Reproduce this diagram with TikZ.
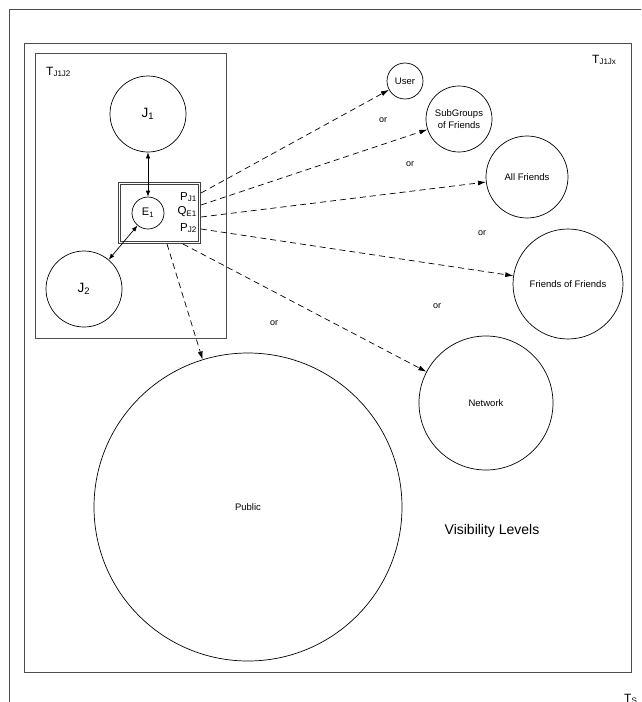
\documentclass[tikz,border=0pt]{standalone}
\usepackage{fontspec}
\setmainfont{Liberation Sans}
\usetikzlibrary{arrows.meta}

\tikzset{
  frame/.style={draw=black!70, line width=0.9pt},
  role/.style={draw, circle, line width=0.7pt, inner sep=0pt, font=\fontsize{13.5}{15}\selectfont},
  level/.style={draw, circle, line width=0.7pt, inner sep=0pt, align=center, font=\fontsize{9.5}{11.5}\selectfont},
  perm/.style={anchor=east, inner sep=0pt, font=\fontsize{11.5}{13}\selectfont},
  tag/.style={anchor=base west, inner sep=0pt, font=\fontsize{12}{14}\selectfont},
  ortext/.style={inner sep=0pt, font=\fontsize{9}{10}\selectfont},
  link/.style={line width=0.7pt, {Latex[length=6pt,width=4.5pt]}-{Latex[length=6pt,width=4.5pt]}},
  choice/.style={line width=0.7pt, dash pattern=on 6pt off 4pt, -{Latex[length=8pt,width=5pt]}},
}

\begin{document}
\begin{tikzpicture}[x=1pt, y=-1pt]
\useasboundingbox (0,0) rectangle (641,702);
\clip (0,0) rectangle (641,702);

% frames
\draw[frame] (9,720) -- (9,9) -- (660,9);
\draw[frame] (24,43) rectangle (631,672);
\draw[frame] (35,53) rectangle (226,338);
\node[tag] (ts) at (624,702) {T\textsubscript{S}};
\node[tag] (tjx) at (592,63) {T\textsubscript{J1Jx}};
\node[tag] (tjj) at (46,75) {T\textsubscript{J1J2}};

% roles and entity
\node[role, minimum size=76pt] (j1) at (148,114) {J\textsubscript{1}};
\node[role, minimum size=76pt] (j2) at (84,289) {J\textsubscript{2}};
\node[role, minimum size=32pt, font=\fontsize{11}{13}\selectfont] (e1) at (148,213) {E\textsubscript{1}};
\node[draw=black!75, double, double distance=1.6pt, line width=0.6pt,
      minimum width=80pt, minimum height=59pt, inner sep=0pt] (ebox) at (159.5,213) {};
\node[perm] (pj1) at (197,197) {P\textsubscript{J1}};
\node[perm] (qe1) at (197,212) {Q\textsubscript{E1}};
\node[perm] (pj2) at (197,228) {P\textsubscript{J2}};

\draw[link] (j1) -- (e1);
\draw[link] (e1) -- (j2);

% visibility levels
\node[level, minimum size=36pt] (user) at (405,81) {User};
\node[level, minimum size=66pt] (subgroups) at (459,119) {SubGroups\\of Friends};
\node[level, minimum size=82pt] (allfriends) at (527,177) {All Friends};
\node[level, minimum size=110pt] (fof) at (568,284) {Friends of Friends};
\node[level, minimum size=134pt] (network) at (486,403) {Network};
\node[level, minimum size=308pt] (public) at (248,507) {Public};

\coordinate (o1) at (201,193);
\coordinate (o2) at (201,205);
\coordinate (o3) at (201,217);
\coordinate (o4) at (201,229);
\coordinate (o5) at (183,244);
\coordinate (o6) at (167,244);

\draw[choice] (o1) -- (user);
\draw[choice] (o2) -- (subgroups);
\draw[choice] (o3) -- (allfriends);
\draw[choice] (o4) -- (fof);
\draw[choice] (o5) -- (network);
\draw[choice] (o6) -- (public);

\node[ortext] (or1) at (383,120) {or};
\node[ortext] (or2) at (410,164) {or};
\node[ortext] (or3) at (482,233) {or};
\node[ortext] (or4) at (437,306) {or};
\node[ortext] (or5) at (274,323) {or};

\node[font=\fontsize{14}{16}\selectfont] (vislevels) at (492,531) {Visibility Levels};
\end{tikzpicture}
\end{document}
